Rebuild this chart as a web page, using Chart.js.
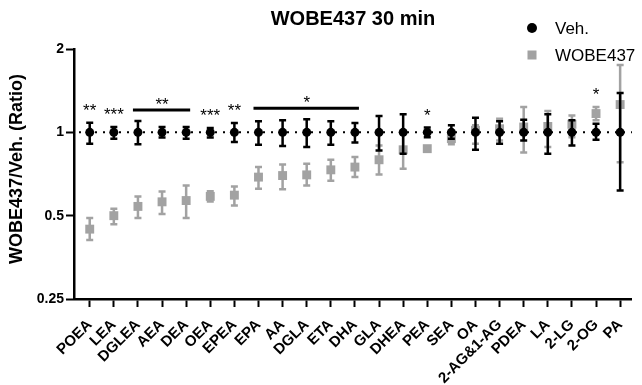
<!DOCTYPE html>
<html>
<head>
<meta charset="utf-8">
<script src="https://cdn.jsdelivr.net/npm/chart.js@4/dist/chart.umd.min.js"></script>
<style>
  html, body { margin: 0; padding: 0; background: #fff; }
  #wrap { width: 642px; height: 385px; }
</style>
</head>
<body>
<div id="wrap"><canvas id="chart"></canvas></div>
<script>
const categories = ['POEA','LEA','DGLEA','AEA','DEA','OEA','EPEA','EPA','AA','DGLA','ETA','DHA','GLA','DHEA','PEA','SEA','OA','2-AG&1-AG','PDEA','LA','2-LG','2-OG','PA'];

const vehMean = [1,1,1,1,1,1,1,1,1,1,1,1,1,1,1,1,1,1,1,1,1,1,1];
const vehLow  = [0.91,0.949,0.905,0.957,0.949,0.957,0.922,0.902,0.892,0.885,0.902,0.918,0.86,0.837,0.96,0.949,0.865,0.91,0.935,0.837,0.897,0.941,0.616];
const vehHigh = [1.084,1.045,1.099,1.045,1.045,1.036,1.081,1.096,1.105,1.115,1.096,1.08,1.146,1.162,1.04,1.06,1.13,1.096,1.11,1.162,1.105,1.075,1.388];

const wobMean = [0.447,0.50,0.54,0.561,0.567,0.587,0.593,0.689,0.698,0.702,0.732,0.749,0.796,0.865,0.873,0.949,1.017,1.03,1.045,1.05,1.069,1.169,1.26];
const wobLow  = [0.408,0.466,0.49,0.507,0.49,0.562,0.544,0.625,0.623,0.642,0.668,0.689,0.704,0.738,0.86,0.905,0.91,0.935,0.846,0.885,0.96,1.105,0.78];
const wobHigh = [0.49,0.53,0.587,0.611,0.642,0.613,0.637,0.749,0.765,0.77,0.796,0.814,0.897,0.99,0.886,0.99,1.06,1.12,1.235,1.195,1.15,1.235,1.75];

const yTicks = [0.25, 0.5, 1, 2];

// significance marks: column range + stars
const sigMarks = [
  { from: 0, to: 0, text: '**' },
  { from: 1, to: 1, text: '***' },
  { from: 2, to: 4, text: '**' },
  { from: 5, to: 5, text: '***' },
  { from: 6, to: 6, text: '**' },
  { from: 7, to: 11, text: '*' },
  { from: 14, to: 14, text: '*' },
  { from: 21, to: 21, text: '*' }
];

const GRAY = '#a2a2a2';
const FONT = '"Liberation Sans", Arial, sans-serif';
const errors = [
  { low: vehLow, high: vehHigh, color: '#000' },
  { low: wobLow, high: wobHigh, color: GRAY }
];

const extras = {
  id: 'extras',
  beforeDatasetsDraw(chart) {
    const { ctx, chartArea, scales } = chart;
    const y = scales.y.getPixelForValue(1);
    ctx.save();
    ctx.strokeStyle = '#000';
    ctx.lineWidth = 2;
    ctx.setLineDash([2, 6]);
    ctx.beginPath();
    ctx.moveTo(chartArea.left + 5, y);
    ctx.lineTo(chartArea.right, y);
    ctx.stroke();
    ctx.restore();
  },
  beforeDatasetDraw(chart, args) {
    const { ctx, scales } = chart;
    const e = errors[args.index];
    ctx.save();
    ctx.strokeStyle = e.color;
    ctx.lineWidth = 2.5;
    categories.forEach((c, i) => {
      const x = scales.x.getPixelForValue(i);
      const y1 = scales.y.getPixelForValue(e.low[i]);
      const y2 = scales.y.getPixelForValue(e.high[i]);
      ctx.beginPath();
      ctx.moveTo(x, y1); ctx.lineTo(x, y2);
      ctx.moveTo(x - 3.5, y1); ctx.lineTo(x + 3.5, y1);
      ctx.moveTo(x - 3.5, y2); ctx.lineTo(x + 3.5, y2);
      ctx.stroke();
    });
    ctx.restore();
  },
  afterDraw(chart) {
    const { ctx, chartArea, scales } = chart;
    ctx.save();
    ctx.fillStyle = '#000';

    // title
    ctx.font = 'bold 20px ' + FONT;
    ctx.textAlign = 'center';
    ctx.textBaseline = 'middle';
    ctx.fillText('WOBE437 30 min', (chartArea.left + chartArea.right) / 2, 19);

    // y title
    ctx.save();
    ctx.translate(17, 169);
    ctx.rotate(-Math.PI / 2);
    ctx.font = 'bold 18px ' + FONT;
    ctx.fillText('WOBE437/Veh. (Ratio)', 0, 0);
    ctx.restore();

    // legend
    ctx.beginPath();
    ctx.arc(532, 28, 5, 0, Math.PI * 2);
    ctx.fill();
    ctx.fillStyle = GRAY;
    ctx.fillRect(527.5, 50.5, 9, 9);
    ctx.fillStyle = '#000';
    ctx.font = '17px ' + FONT;
    ctx.textAlign = 'left';
    ctx.fillText('Veh.', 555, 29);
    ctx.fillText('WOBE437', 555, 56);

    // significance
    ctx.textAlign = 'center';
    ctx.textBaseline = 'alphabetic';
    ctx.font = '17px ' + FONT;
    ctx.lineWidth = 3;
    ctx.strokeStyle = '#000';
    sigMarks.forEach(m => {
      let top = Infinity;
      for (let i = m.from; i <= m.to; i++) {
        top = Math.min(top, scales.y.getPixelForValue(Math.max(vehHigh[i], wobHigh[i])));
      }
      const x1 = scales.x.getPixelForValue(m.from);
      const x2 = scales.x.getPixelForValue(m.to);
      let starY;
      if (m.to > m.from) {
        const ly = top - 11;
        ctx.beginPath();
        ctx.moveTo(x1 - 5, ly); ctx.lineTo(x2 + 4, ly);
        ctx.stroke();
        starY = ly - 10;
      } else {
        starY = top - 17;
      }
      ctx.fillText(m.text, (x1 + x2) / 2, starY + 10);
    });
    ctx.restore();
  }
};

new Chart(document.getElementById('chart'), {
  type: 'scatter',
  data: {
    datasets: [
      { label: 'Veh.', data: vehMean.map((v, i) => ({ x: i, y: v })),
        pointStyle: 'circle', pointRadius: 4.5, backgroundColor: '#000', borderColor: '#000', borderWidth: 0 },
      { label: 'WOBE437', data: wobMean.map((v, i) => ({ x: i, y: v })),
        pointStyle: 'rect', pointRadius: 6.3, backgroundColor: GRAY, borderColor: GRAY, borderWidth: 0 }
    ]
  },
  plugins: [extras],
  options: {
    responsive: true,
    maintainAspectRatio: false,
    animation: false,
    layout: { padding: { top: 49, left: 0, right: 0, bottom: 0 } },
    plugins: { legend: { display: false }, title: { display: false }, tooltip: { enabled: false } },
    scales: {
      x: {
        type: 'linear', min: -0.652, max: 22.49,
        afterBuildTicks: s => { s.ticks = categories.map((c, i) => ({ value: i })); },
        afterFit: s => { s.height = 86; },
        ticks: { autoSkip: false, minRotation: 45, maxRotation: 45, padding: 9, color: '#000',
          font: { family: FONT, size: 15, weight: 'bold' }, callback: v => categories[v] },
        grid: { drawOnChartArea: false, drawTicks: true, tickLength: 8, tickWidth: 2, tickColor: '#000' },
        border: { display: true, color: '#000', width: 2.5 }
      },
      y: {
        type: 'logarithmic', min: 0.25, max: 2,
        afterBuildTicks: s => { s.ticks = yTicks.map(v => ({ value: v })); },
        afterFit: s => { s.width = 74; },
        ticks: { color: '#000', padding: 2, font: { family: FONT, size: 14, weight: 'bold' }, callback: v => String(v) },
        grid: { drawOnChartArea: false, drawTicks: true, tickLength: 8, tickWidth: 2, tickColor: '#000' },
        border: { display: true, color: '#000', width: 2.5 }
      }
    }
  }
});
</script>
</body>
</html>
